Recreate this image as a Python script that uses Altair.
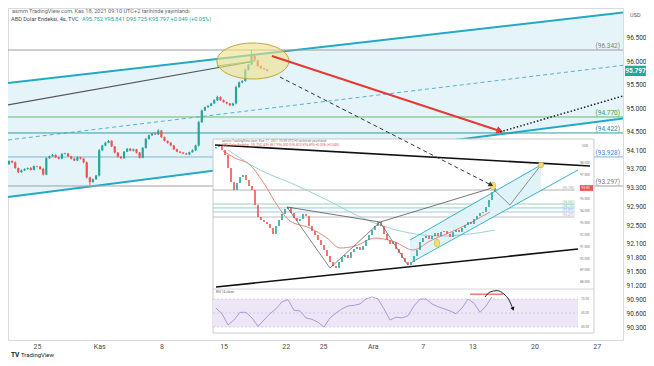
import altair as alt
import pandas as pd

# ---------------- texts ----------------
HEADER_1 = "asrnm TradingView.com, Kas 18, 2021 09:10 UTC+2 tarihinde yayınlandı"
HEADER_2_NAME = "ABD Dolar Endeksi, 4s, TVC"
HEADER_2_VALUES = "A95.752  Y95.841  D95.725  K95.797  +0.049 (+0.05%)"
INSET_HEADER_1 = "asrnm TradingView.com, Kas 17, 2021 10:59 UTC+3 tarihinde yayınlandı"
INSET_HEADER_2 = "ABD Dolar Endeksi, 1G, TVC  A95.857  Y96.000  D95.820  K95.895  +0.038 (+0.04%)"
INSET_RSI_LABEL = "RSI 14 close"
LOGO = "TradingView"

# ---------------- main axes ----------------
TIME_TICKS = [0, 5, 10, 15, 20, 23, 27, 31, 35, 40, 45]
TIME_LABELS = ["25", "Kas", "8", "15", "22", "25", "Ara", "7", "13", "20", "27"]
PRICE_TICKS = [96.5, 96.0, 95.5, 95.0, 94.5, 94.1, 93.7, 93.3, 92.9, 92.5,
               92.1, 91.8, 91.5, 91.2, 90.9, 90.6, 90.3]

# ---------------- main 4h candles ----------------
MAIN_T0 = -2.25
MAIN_STEP = 0.25
MAIN_FIRST_OPEN = 93.80
MAIN_CLOSE = [
    93.87, 93.84, 93.72, 93.63, 93.67, 93.70, 93.72, 93.68, 93.76, 93.75,
    93.70, 93.58, 93.93, 93.97, 94.00, 93.95, 93.92, 94.02, 94.03, 93.97,
    93.92, 93.88, 93.95, 93.92, 93.84, 93.52, 93.42, 93.48, 93.56, 94.10,
    94.20, 94.26, 94.30, 94.18, 94.05, 93.96, 93.93, 94.07, 94.13, 94.09,
    94.12, 94.05, 93.94, 94.15, 94.34, 94.42, 94.46, 94.44, 94.52, 94.38,
    94.30, 94.26, 94.20, 94.12, 94.07, 94.05, 94.03, 94.01, 94.06, 94.10,
    94.20, 94.70, 94.95, 95.02, 95.05, 95.10, 95.17, 95.24, 95.17, 95.13,
    95.10, 95.06, 95.10, 95.45, 95.55, 95.58, 95.82, 95.93, 96.12, 96.02,
    95.90, 95.85, 95.83, 95.797]
MAIN_UPWICK = [  # thousandths above body
    15, 12, 20, 10, 18, 14, 12, 20, 15, 10,
    12, 25, 18, 15, 20, 12, 14, 22, 16, 10,
    12, 18, 15, 10, 12, 20, 14, 18, 12, 30,
    15, 20, 18, 12, 10, 14, 16, 12, 18, 20,
    14, 10, 12, 18, 25, 15, 12, 20, 30, 14,
    12, 10, 16, 12, 14, 10, 12, 15, 10, 18,
    20, 25, 18, 14, 12, 15, 20, 25, 12, 14,
    10, 12, 15, 30, 20, 18, 22, 15, 120, 18,
    14, 12, 16, 10]
MAIN_DOWNWICK = [  # thousandths below body
    12, 15, 18, 20, 10, 14, 16, 12, 10, 15,
    18, 22, 14, 12, 10, 18, 16, 12, 10, 14,
    18, 12, 10, 16, 20, 25, 60, 15, 12, 18,
    14, 12, 10, 15, 20, 16, 12, 14, 10, 12,
    16, 20, 15, 12, 14, 10, 18, 12, 14, 16,
    12, 18, 14, 16, 12, 15, 14, 12, 16, 14,
    18, 20, 15, 12, 14, 10, 12, 16, 12, 14,
    18, 16, 14, 20, 15, 18, 14, 16, 12, 14,
    18, 12, 10, 14]
LAST_PRICE = 95.797
LAST_PRICE_TEXT = "95.797"

# ---------------- main drawings ----------------
CHANNEL_T = [-2.33, 47.11]
CHANNEL_TOP = [95.538, 97.045]
CHANNEL_MID = [94.319, 95.916]
CHANNEL_BOT = [93.10, 94.779]
TREND_B_T = [-2.33, 17.12]
TREND_B_P = [95.068, 95.987]
GREEN_SEG_T = [14.47, 17.52]
GREEN_SEG_P = [95.901, 96.008]
LEVELS = [96.243, 94.811, 94.469, 93.956, 93.336]
LEVEL_LABELS = ["(96.342)", "(94.770)", "(94.422)", "(93.928)", "(93.297)"]
LEVEL_T = [-2.33, 47.11]
LEVEL_LABEL_T = 46.87
RED_ARROW_T = [18.89, 37.22]
RED_ARROW_P = [96.115, 94.512]
DOTTED_T = [37.22, 47.11]
DOTTED_P = [94.490, 95.260]
DASH_ARROW_T = [19.53, 36.50]
DASH_ARROW_P = [95.666, 93.357]
ELLIPSE_T = [17.36]
ELLIPSE_P = [96.008]
PRICE_BOX_T = [47.27, 48.95]
USD_T = 48.1
USD_P = 96.99

# ---------------- inset (daily chart screenshot) ----------------
INSET_FIRST_OPEN = 99.20
INSET_CLOSE = [
    99.33, 99.42, 99.08, 98.66, 97.58, 96.40, 95.73, 96.32, 96.82, 96.99,
    96.57, 96.07, 95.73, 94.48, 93.47, 93.22, 93.05, 92.89, 92.55, 92.05,
    92.72, 93.22, 93.72, 94.14, 94.31, 93.81, 93.39, 93.14, 93.30, 93.72,
    93.56, 92.72, 92.30, 91.96, 91.55, 91.13, 90.71, 90.21, 89.70, 89.37,
    89.20, 89.70, 90.12, 90.29, 90.04, 90.54, 90.79, 90.96, 90.71, 91.04,
    91.55, 91.96, 92.38, 92.72, 93.05, 92.72, 92.05, 91.55, 91.21, 91.38,
    90.79, 90.46, 90.04, 89.70, 89.45, 89.70, 90.21, 90.71, 91.38, 91.71,
    91.88, 91.63, 91.88, 92.13, 91.88, 92.22, 92.30, 92.05, 91.80, 92.22,
    92.38, 92.22, 92.55, 92.80, 93.05, 92.89, 93.30, 93.56, 93.81, 93.89,
    94.31, 94.90, 95.57, 95.90]
INSET_RSI = [
    57, 49, 33, 40, 51, 51, 43, 31, 40, 49,
    56, 66, 69, 54, 53, 43, 41, 37, 30, 43,
    50, 56, 60, 61, 63, 70, 73, 70, 56, 40,
    44, 43, 46, 60, 70, 70, 63, 59, 56, 53,
    49, 57, 70, 64, 51, 60, 73]
INSET_BOX_I = [-1, 126]
INSET_BOX_Q = [83.76, 100.0]
INSET_PLOT_END = 120.67
INSET_SEP_Q = 87.44
INSET_TOP_LINE_I = [-0.33, 124.67]
INSET_TOP_LINE_Q = [99.50, 97.74]
INSET_BOT_LINE_I = [0, 120.67]
INSET_BOT_LINE_Q = [87.61, 90.79]
INSET_LEVELS = [95.73, 94.56, 94.23, 93.89, 93.47]
INSET_LEVEL_LABELS = ["(95.730)", "(94.560)", "(94.230)", "(93.890)", "(93.470)"]
INSET_LEVEL_I = [-1, 119.5]
INSET_RED_MA_I = [2.33, 6.33, 11.33, 16.33, 20.33, 24.67, 31.33, 37, 41.33, 46.33,
                  53, 59.67, 65.67, 71.33, 81.33, 91.33]
INSET_RED_MA_Q = [99.00, 98.41, 97.83, 96.15, 94.48, 93.14, 92.55, 91.71, 90.88, 91.04,
                  91.71, 91.38, 90.71, 91.46, 92.55, 93.89]
INSET_TEAL_MA_I = [4, 14.67, 25.67, 37, 44.67, 54.67, 64.67, 74.67, 84.67, 93]
INSET_TEAL_MA_Q = [99.08, 97.41, 96.24, 94.90, 93.89, 92.80, 92.13, 91.88, 92.05, 92.38]
INSET_ZIGZAG_I = [23.67, 38, 54.67, 64]
INSET_ZIGZAG_Q = [94.31, 89.20, 93.05, 89.45]
INSET_UPPER_I = [23.67, 54.67, 92]
INSET_UPPER_Q = [94.31, 93.05, 95.90]
INSET_CH_FILL_I = [64.67, 108.33]
INSET_CH_FILL_TOP = [91.55, 97.83]
INSET_CH_FILL_BOT = [89.70, 95.69]
INSET_CH_UP_I = [64.67, 108.33]
INSET_CH_UP_Q = [91.55, 97.83]
INSET_CH_LO_I = [65.33, 120.67]
INSET_CH_LO_Q = [89.70, 97.41]
INSET_PROJ_I = [92, 98, 108.33]
INSET_PROJ_Q = [95.90, 94.48, 97.83]
INSET_MARK_I = [73.67, 92.33]
INSET_MARK_Q = [91.29, 96.07]
INSET_MARK2_I = [108.33]
INSET_MARK2_Q = [97.83]
INSET_AXIS_VALUES = [98, 97, 96, 95, 94, 93, 92, 91, 90, 89, 88]
INSET_AXIS_I = 123
INSET_LAST = 95.90
INSET_LAST_TEXT = "95.90"
INSET_LAST_BOX_I = [121.3, 125.7]
INSET_HEADER_I = 2
INSET_HEADER_Q = [99.84, 99.46]
RSI_LEVELS = [70, 50, 30]
RSI_LEVEL_TEXT = ["70.00", "50.00", "30.00"]
RSI_BAND = [30, 70]
RSI_RED_I = [84.67, 95.67]
RSI_RED_R = [77, 77]
RSI_CURVE_I = [89.67, 91.33, 93.67, 96, 97.67, 99]
RSI_CURVE_R = [72.9, 80, 82, 77, 68.6, 55.7]

# ---------------- styles ----------------
UP = "#26a69a"
DOWN = "#ef5350"
FONT = "Roboto"


def xmain():
    return alt.Scale(domain=[-2.33, 47.11], nice=False, zero=False)


def ymain():
    return alt.Scale(domain=[90.043, 97.141], nice=False, zero=False)


def xin():
    return alt.Scale(domain=[-1, 120.67], range=[205, 570], nice=False, zero=False)


def yin():
    return alt.Scale(domain=[87.53, 99.75], range=[280, 134], nice=False, zero=False)


def yrsi():
    return alt.Scale(domain=[22.9, 82.9], range=[324, 282], nice=False, zero=False)


COLOR = alt.Color("dir:N", scale=alt.Scale(domain=["up", "down"], range=[UP, DOWN]), legend=None)


def xy(xs, ys):
    return pd.DataFrame({"x": xs, "y": ys, "k": list(range(len(xs)))})


def line(xs, ys, xsc, ysc, **style):
    return alt.Chart(xy(xs, ys)).mark_line(**style).encode(
        x=alt.X("x:Q", scale=xsc(), axis=None),
        y=alt.Y("y:Q", scale=ysc(), axis=None),
        order="k:Q",
    )


def band(xs, top, bot, xsc, ysc, **style):
    df = pd.DataFrame({"x": xs, "top": top, "bot": bot})
    return alt.Chart(df).mark_area(**style).encode(
        x=alt.X("x:Q", scale=xsc(), axis=None),
        y=alt.Y("top:Q", scale=ysc(), axis=None),
        y2="bot:Q",
    )


def hrule(x0, x1, level, xsc, ysc, **style):
    df = pd.DataFrame({"x0": [x0], "x1": [x1], "y": [level]})
    return alt.Chart(df).mark_rule(**style).encode(
        x=alt.X("x0:Q", scale=xsc(), axis=None), x2="x1:Q",
        y=alt.Y("y:Q", scale=ysc(), axis=None),
    )


def rect(x0, x1, y0, y1, xsc, ysc, **style):
    df = pd.DataFrame({"x0": [x0], "x1": [x1], "y0": [y0], "y1": [y1]})
    return alt.Chart(df).mark_rect(**style).encode(
        x=alt.X("x0:Q", scale=xsc(), axis=None), x2="x1:Q",
        y=alt.Y("y0:Q", scale=ysc(), axis=None), y2="y1:Q",
    )


def label(x, y, txt, xsc, ysc, **style):
    df = pd.DataFrame({"x": [x], "y": [y], "txt": [txt]})
    return alt.Chart(df).mark_text(font=FONT, **style).encode(
        x=alt.X("x:Q", scale=xsc(), axis=None),
        y=alt.Y("y:Q", scale=ysc(), axis=None),
        text="txt:N",
    )


def point(xs, ys, xsc, ysc, **style):
    return alt.Chart(xy(xs, ys)).mark_point(**style).encode(
        x=alt.X("x:Q", scale=xsc(), axis=None),
        y=alt.Y("y:Q", scale=ysc(), axis=None),
    )


def ptext(txt, px, py, **style):
    return alt.Chart(pd.DataFrame({"txt": [txt]})).mark_text(font=FONT, **style).encode(
        x=alt.value(px), y=alt.value(py), text="txt:N")


# ---------------- main layers ----------------
label_expr = "''"
for v, lab in reversed(list(zip(TIME_TICKS, TIME_LABELS))):
    label_expr = f"datum.value == {v} ? '{lab}' : ({label_expr})"

fill_df = pd.DataFrame({"x": CHANNEL_T, "top": CHANNEL_TOP, "bot": CHANNEL_BOT})
channel_fill = alt.Chart(fill_df).mark_area(color="#e5f4f9").encode(
    x=alt.X("x:Q", scale=xmain(), title=None,
            axis=alt.Axis(values=TIME_TICKS, labelExpr=label_expr, orient="bottom", grid=False,
                          ticks=False, domain=False, labelFontSize=7, labelColor="#4a4a4a",
                          labelPadding=2, labelFont=FONT, labelFlush=False, labelOverlap=False)),
    y=alt.Y("top:Q", scale=ymain(), title=None,
            axis=alt.Axis(values=PRICE_TICKS, format=".3f", orient="right", grid=False,
                          ticks=False, domain=False, labelFontSize=6.5, labelColor="#333",
                          labelPadding=3, labelFont=FONT, labelFlush=False, labelOverlap=False)),
    y2="bot:Q",
)

layers = [channel_fill]
layers.append(line(CHANNEL_T, CHANNEL_MID, xmain, ymain, color="#5aaed0", strokeWidth=1, strokeDash=[4, 3]))
layers.append(line(CHANNEL_T, CHANNEL_TOP, xmain, ymain, color="#22aac4", strokeWidth=2))
layers.append(line(CHANNEL_T, CHANNEL_BOT, xmain, ymain, color="#22aac4", strokeWidth=2))
layers.append(line(TREND_B_T, TREND_B_P, xmain, ymain, color="#555555", strokeWidth=1.2))

level_line_colors = ["#9e9e9e", "#66bb6a", "#2a9d9f", "#7fb6d2", "#a0a0a0"]
level_text_colors = ["#808080", "#43a047", "#1e88a8", "#3f7fe0", "#808080"]
for lvl, txt, lc, tc in zip(LEVELS, LEVEL_LABELS, level_line_colors, level_text_colors):
    layers.append(hrule(LEVEL_T[0], LEVEL_T[1], lvl, xmain, ymain, color=lc, strokeWidth=1))
    layers.append(label(LEVEL_LABEL_T, lvl, txt, xmain, ymain, align="right", baseline="bottom",
                        dy=-1, fontSize=6.5, color=tc))

opens = [MAIN_FIRST_OPEN] + MAIN_CLOSE[:-1]
main_df = pd.DataFrame({
    "t": [MAIN_T0 + MAIN_STEP * i for i in range(len(MAIN_CLOSE))],
    "o": opens,
    "c": MAIN_CLOSE,
    "h": [max(o, c) + u / 1000 for o, c, u in zip(opens, MAIN_CLOSE, MAIN_UPWICK)],
    "l": [min(o, c) - d / 1000 for o, c, d in zip(opens, MAIN_CLOSE, MAIN_DOWNWICK)],
    "dir": ["up" if c >= o else "down" for o, c in zip(opens, MAIN_CLOSE)],
})
layers.append(alt.Chart(main_df).mark_rule(strokeWidth=1).encode(
    x=alt.X("t:Q", scale=xmain(), axis=None), y=alt.Y("l:Q", scale=ymain(), axis=None),
    y2="h:Q", color=COLOR))
layers.append(alt.Chart(main_df).mark_rule(strokeWidth=2.2).encode(
    x=alt.X("t:Q", scale=xmain(), axis=None), y=alt.Y("o:Q", scale=ymain(), axis=None),
    y2="c:Q", color=COLOR))

layers.append(line(GREEN_SEG_T, GREEN_SEG_P, xmain, ymain, color="#4caf50", strokeWidth=1))
ELLIPSE_SHAPE = "M-1,0A1,0.5,0,1,0,1,0A1,0.5,0,1,0,-1,0Z"
layers.append(point(ELLIPSE_T, ELLIPSE_P, xmain, ymain, shape=ELLIPSE_SHAPE, size=5184, filled=True,
                    fill="#efe08a", fillOpacity=0.62, stroke="#bfa63a", strokeWidth=1, strokeOpacity=1,
                    opacity=1))
layers.append(line(RED_ARROW_T, RED_ARROW_P, xmain, ymain, color="#e53935", strokeWidth=2))
layers.append(point(RED_ARROW_T[1:], RED_ARROW_P[1:], xmain, ymain, shape="triangle-right", angle=18,
                    size=60, filled=True, color="#e53935", opacity=1))
layers.append(line(DOTTED_T, DOTTED_P, xmain, ymain, color="#222222", strokeWidth=1.5, strokeDash=[1.5, 2]))

layers.append(rect(PRICE_BOX_T[0], PRICE_BOX_T[1], LAST_PRICE - 0.11, LAST_PRICE + 0.11, xmain, ymain,
                   color="#26a69a"))
layers.append(label((PRICE_BOX_T[0] + PRICE_BOX_T[1]) / 2, LAST_PRICE, LAST_PRICE_TEXT, xmain, ymain,
                    align="center", baseline="middle", fontSize=6.5, color="white", fontWeight="bold"))
layers.append(label(USD_T, USD_P, "USD", xmain, ymain, align="center", baseline="middle",
                    fontSize=5.5, color="#555"))

layers.append(ptext(HEADER_1, 4, 2.5, align="left", baseline="middle", fontSize=5.6, color="#666"))
layers.append(ptext(HEADER_2_NAME, 3, 11, align="left", baseline="middle", fontSize=5.6, color="#444"))
layers.append(ptext(HEADER_2_VALUES, 74, 11, align="left", baseline="middle", fontSize=5.6, color="#26a69a"))
layers.append(ptext(LOGO, 13, 346.5, align="left", baseline="middle", fontSize=6, color="#131722"))
layers.append(ptext("TV", 3, 346.5, align="left", baseline="middle", fontSize=6.5, fontWeight="bold",
                    color="#131722"))

# ---------------- inset price layers ----------------
ins = []
ins.append(rect(INSET_BOX_I[0], INSET_BOX_I[1], INSET_BOX_Q[0], INSET_BOX_Q[1], xin, yin,
                fill="white", stroke="#c9c9c9", strokeWidth=1))
ins.append(hrule(INSET_BOX_I[0], INSET_BOX_I[1], INSET_SEP_Q, xin, yin, color="#d5d5d5", strokeWidth=1))

inset_level_colors = ["#9e9e9e", "#7cc9a0", "#6fc3c8", "#8fb4e8", "#b0b0b0"]
for lvl, txt, lc in zip(INSET_LEVELS, INSET_LEVEL_LABELS, inset_level_colors):
    ins.append(hrule(INSET_LEVEL_I[0], INSET_LEVEL_I[1], lvl, xin, yin, color=lc, strokeWidth=0.8))
    ins.append(label(INSET_LEVEL_I[1], lvl, txt, xin, yin, align="right", baseline="bottom",
                     fontSize=3.2, color=lc))

ins.append(band(INSET_CH_FILL_I, INSET_CH_FILL_TOP, INSET_CH_FILL_BOT, xin, yin, color="#dff3f8"))
ins.append(line(INSET_TEAL_MA_I, INSET_TEAL_MA_Q, xin, yin, color="#9ad3d8", strokeWidth=1, interpolate="monotone"))
ins.append(line(INSET_RED_MA_I, INSET_RED_MA_Q, xin, yin, color="#e8857a", strokeWidth=1, interpolate="monotone"))

in_opens = [INSET_FIRST_OPEN] + INSET_CLOSE[:-1]
in_df = pd.DataFrame({
    "i": list(range(len(INSET_CLOSE))),
    "o": in_opens,
    "c": INSET_CLOSE,
    "dir": ["up" if c >= o else "down" for o, c in zip(in_opens, INSET_CLOSE)],
})
ins.append(alt.Chart(in_df).mark_rule(strokeWidth=1.6).encode(
    x=alt.X("i:Q", scale=xin(), axis=None), y=alt.Y("o:Q", scale=yin(), axis=None),
    y2="c:Q", color=COLOR))

ins.append(line(INSET_TOP_LINE_I, INSET_TOP_LINE_Q, xin, yin, color="#111111", strokeWidth=1.6))
ins.append(line(INSET_BOT_LINE_I, INSET_BOT_LINE_Q, xin, yin, color="#111111", strokeWidth=1.6))
ins.append(line(INSET_ZIGZAG_I, INSET_ZIGZAG_Q, xin, yin, color="#666666", strokeWidth=0.8))
ins.append(line(INSET_UPPER_I, INSET_UPPER_Q, xin, yin, color="#666666", strokeWidth=0.9))
ins.append(line(INSET_CH_UP_I, INSET_CH_UP_Q, xin, yin, color="#35b3cc", strokeWidth=1))
ins.append(line(INSET_CH_LO_I, INSET_CH_LO_Q, xin, yin, color="#35b3cc", strokeWidth=1))
ins.append(line(INSET_PROJ_I, INSET_PROJ_Q, xin, yin, color="#777777", strokeWidth=0.8))

OVAL = "M0,-1A0.65,1,0,1,0,0,1A0.65,1,0,1,0,0,-1Z"
ins.append(point(INSET_MARK_I, INSET_MARK_Q, xin, yin, shape=OVAL, size=64, filled=True,
                 fill="#f3df6c", stroke="#c7a93a", strokeWidth=0.6, opacity=1))
ins.append(point(INSET_MARK2_I, INSET_MARK2_Q, xin, yin, shape="circle", size=30, filled=True,
                 fill="#f3df6c", stroke="#c7a93a", strokeWidth=0.6, opacity=1))

axis_df = pd.DataFrame({"x": [INSET_AXIS_I] * len(INSET_AXIS_VALUES), "y": INSET_AXIS_VALUES,
                        "txt": [f"{v:.3f}" for v in INSET_AXIS_VALUES]})
ins.append(alt.Chart(axis_df).mark_text(fontSize=3.2, color="#777", font=FONT).encode(
    x=alt.X("x:Q", scale=xin(), axis=None), y=alt.Y("y:Q", scale=yin(), axis=None), text="txt:N"))
ins.append(rect(INSET_LAST_BOX_I[0], INSET_LAST_BOX_I[1], INSET_LAST - 0.24, INSET_LAST + 0.24, xin, yin,
                color="#ef5350"))
ins.append(label(INSET_AXIS_I + 0.2, INSET_LAST, INSET_LAST_TEXT, xin, yin, align="center",
                 baseline="middle", fontSize=3.2, color="white"))
ins.append(label(INSET_AXIS_I, 99.45, "USD", xin, yin, align="center", baseline="middle",
                 fontSize=3.2, color="#777"))
ins.append(label(INSET_HEADER_I, INSET_HEADER_Q[0], INSET_HEADER_1, xin, yin, align="left",
                 baseline="middle", fontSize=3.3, color="#777"))
ins.append(label(INSET_HEADER_I, INSET_HEADER_Q[1], INSET_HEADER_2, xin, yin, align="left",
                 baseline="middle", fontSize=3.3, color="#e06060"))

# ---------------- inset RSI layers ----------------
rs = []
rs.append(band([INSET_BOX_I[0], INSET_PLOT_END], [RSI_BAND[1]] * 2, [RSI_BAND[0]] * 2,
               xin, yrsi, color="#ece6f6"))
for lv in RSI_LEVELS:
    rs.append(hrule(INSET_BOX_I[0], INSET_PLOT_END, lv, xin, yrsi, color="#b7aed0", strokeWidth=0.5,
                    strokeDash=[2, 2]))
rsi_df = pd.DataFrame({"x": [2 * k for k in range(len(INSET_RSI))], "y": INSET_RSI,
                       "k": list(range(len(INSET_RSI)))})
rs.append(alt.Chart(rsi_df).mark_line(color="#9a86d0", strokeWidth=0.8).encode(
    x=alt.X("x:Q", scale=xin(), axis=None), y=alt.Y("y:Q", scale=yrsi(), axis=None), order="k:Q"))
rs.append(line(RSI_RED_I, RSI_RED_R, xin, yrsi, color="#e53935", strokeWidth=1))
rs.append(line(RSI_CURVE_I, RSI_CURVE_R, xin, yrsi, color="#111111", strokeWidth=0.9, interpolate="monotone"))
rs.append(point(RSI_CURVE_I[-1:], RSI_CURVE_R[-1:], xin, yrsi, shape="triangle-right", angle=70,
                size=18, filled=True, color="#111111", opacity=1))
rl_df = pd.DataFrame({"x": [INSET_AXIS_I] * 3, "y": RSI_LEVELS, "txt": RSI_LEVEL_TEXT})
rs.append(alt.Chart(rl_df).mark_text(fontSize=3.2, color="#777", font=FONT).encode(
    x=alt.X("x:Q", scale=xin(), axis=None), y=alt.Y("y:Q", scale=yrsi(), axis=None), text="txt:N"))
rs.append(label(0, 80, INSET_RSI_LABEL, xin, yrsi, align="left", baseline="middle",
                fontSize=3.3, color="#666"))

# ---------------- overlay (main scales, above inset) ----------------
ov = []
ov.append(line(DASH_ARROW_T, DASH_ARROW_P, xmain, ymain, color="#333333", strokeWidth=1, strokeDash=[4, 3]))
ov.append(point(DASH_ARROW_T[1:], DASH_ARROW_P[1:], xmain, ymain, shape="triangle-right", angle=27,
                size=30, filled=True, color="#333333", opacity=1))

chart = alt.layer(*(layers + ins + rs + ov)).resolve_scale(
    x="independent", y="independent"
).properties(
    width=615, height=332,
    padding={"left": 0, "top": 0, "right": 23, "bottom": 18},
    autosize=alt.AutoSizeParams(type="none"),
    background="white",
).configure_view(stroke="#d7dae0", strokeWidth=1)

chart.save("out.html", embed_options={"renderer": "svg", "actions": False})
